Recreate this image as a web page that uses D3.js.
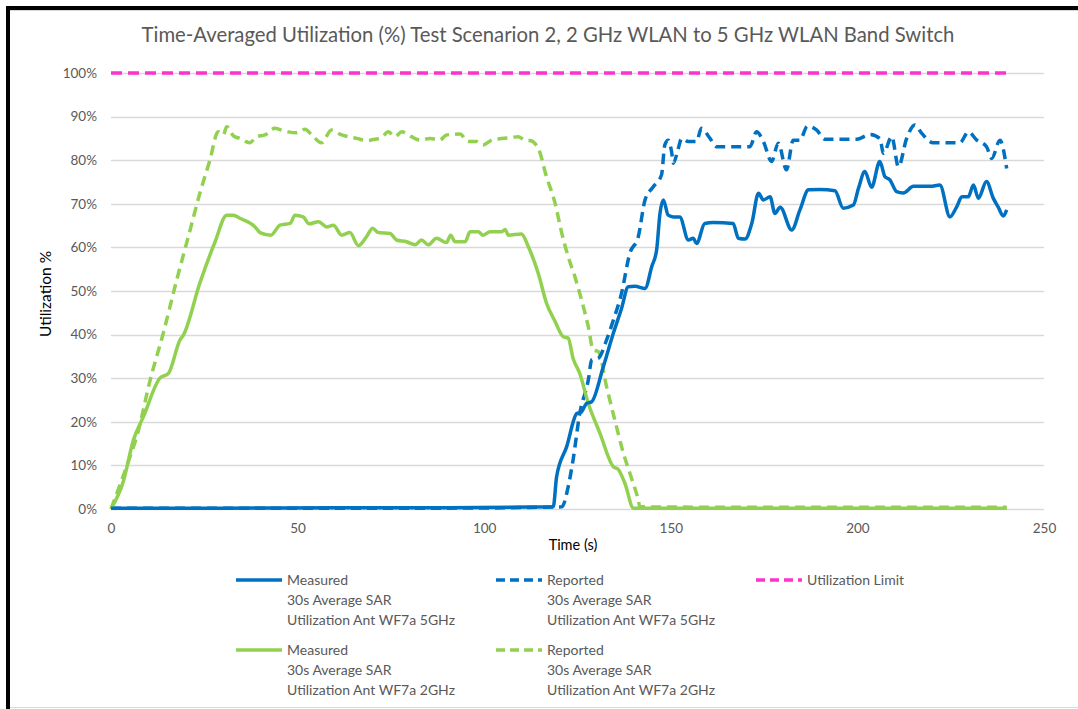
<!DOCTYPE html>
<html>
<head>
<meta charset="utf-8">
<script src="https://cdn.jsdelivr.net/npm/d3@7"></script>
<style>
  html, body { margin: 0; padding: 0; background: #fff; }
  svg { display: block; }
  text { font-family: Lato, "Open Sans", sans-serif; }
</style>
</head>
<body>
<svg id="chart" width="1078" height="709"></svg>
<script>
// ---- data ----
const title = "Time-Averaged Utilization (%) Test Scenarion 2, 2 GHz WLAN to 5 GHz WLAN Band Switch";
const xTicks = [0, 50, 100, 150, 200, 250];
const yTicks = [0, 10, 20, 30, 40, 50, 60, 70, 80, 90, 100];

const blueMeasuredT = [0, 30, 60, 90, 118.5, 119.4, 122.1, 124.8, 126.1, 127.4, 128.8, 131.9, 134.6, 136.8, 138.6, 140.4, 143.1, 144.9, 146.2, 147.1, 148, 149.3, 150.7, 152.4, 154.7, 156, 156.9, 159.1, 161.4, 166.7, 168.1, 169.9, 171.7, 173.5, 174.8, 176.6, 177.9, 179.3, 182.4, 184.6, 186.9, 190, 194, 196.2, 198.9, 200.3, 202, 203.8, 206, 207.4, 208.7, 210.5, 212.3, 215, 219.5, 222.1, 224.8, 226.6, 228, 229.7, 231.1, 232.4, 234.6, 236.4, 237.7, 239.1, 240];
const blueMeasuredV = [0.2, 0.2, 0.3, 0.3, 0.5, 7.4, 14.3, 21.9, 22.3, 24.2, 24.6, 32.6, 40.3, 46, 51, 51.1, 50.6, 55.6, 59.4, 67.8, 70.9, 67.4, 67, 67, 61.7, 62.1, 60.9, 65.5, 65.7, 65.5, 62.1, 61.9, 65.5, 72.4, 70.9, 71.6, 67.8, 69.2, 64, 68.6, 73.2, 73.3, 73, 69, 69.7, 73.6, 77.4, 73.8, 79.7, 76.2, 75.5, 72.8, 72.5, 74, 74, 74.3, 67, 69.3, 71.6, 71.6, 74.3, 71.3, 75.1, 71.3, 69.3, 67.2, 68.6];

const blueReportedT = [0, 30, 60, 90, 120.8, 122.5, 123.8, 125.6, 127.9, 128.8, 130.6, 132.8, 134.6, 136.8, 139, 141.3, 143.1, 145.3, 147.5, 148.4, 149.3, 150.2, 150.7, 152, 152.9, 154.7, 156.9, 158.2, 160.5, 162.3, 171.2, 173, 174.8, 177, 178.8, 181, 182.8, 184.6, 186.6, 189.1, 191.3, 199.8, 203.4, 206, 207, 209.2, 211, 213.2, 215.4, 217.2, 220.3, 227.5, 229.7, 232, 234.6, 236, 238.2, 240];
const blueReportedV = [0.2, 0.2, 0.2, 0.2, 0.5, 5.1, 11.2, 21.9, 29.6, 34.2, 34.6, 38.8, 43.3, 49.5, 58.6, 62.5, 70.9, 73.9, 76.6, 83.5, 84.6, 82, 79.3, 82.7, 85, 84.3, 84.3, 87.3, 85, 83.1, 83.1, 86.5, 84.3, 79.7, 83.9, 77.8, 84.6, 84.6, 87.8, 86.9, 84.8, 84.8, 85.9, 85, 81.6, 85.4, 78.5, 85, 88.1, 86.2, 84, 84, 86.5, 84.6, 83.1, 80.4, 84.6, 78.1];

const greenMeasuredT = [0, 3.3, 6, 8.7, 13.1, 15.4, 18.5, 19.4, 23.8, 27.9, 31, 32.8, 34.5, 38.6, 39.9, 42.8, 45.3, 48, 49.3, 51.5, 53.1, 55.6, 57.8, 59.6, 61.8, 64, 66.3, 68.5, 70.1, 71.6, 74.8, 76.5, 79.2, 81.5, 83.2, 85, 87.2, 89.9, 91, 92.2, 94.9, 96.2, 98.4, 99.7, 101.6, 104.7, 105.6, 106.5, 110, 111.8, 114.5, 116.7, 119, 121.2, 122.5, 123.8, 125.6, 127.9, 131, 134.6, 135.9, 137.7, 140, 170, 200, 240];
const greenMeasuredV = [0, 6.3, 15.8, 21.2, 30, 31.1, 38.8, 39.9, 51.8, 61.3, 67.4, 67.4, 66.7, 64.7, 63.4, 62.8, 65.1, 65.5, 67.4, 67, 65.4, 65.9, 64.7, 65.1, 62.8, 63.4, 60.4, 62.5, 64.4, 63.4, 63.2, 61.7, 61.3, 60.6, 61.7, 60.6, 62.1, 61.1, 62.8, 61.3, 61.3, 63.6, 63.6, 62.8, 63.6, 63.6, 64.1, 62.8, 63.1, 60.2, 54, 47.2, 43, 39.5, 39.2, 34.6, 31.1, 24.2, 17.4, 9.7, 9.1, 5.9, 0.2, 0.2, 0.2, 0.2];

const greenReportedT = [0, 5.1, 6.9, 10.5, 14, 17.6, 21.2, 23.8, 26.5, 28.7, 30.1, 31, 32.8, 34.5, 37.2, 39, 41.3, 43.9, 45.7, 47.5, 49.8, 52, 53.8, 56.4, 59.1, 61.3, 63.6, 65.8, 68.5, 70.7, 72.5, 74.3, 76.1, 77.9, 80.5, 82.8, 85.5, 88.1, 89.9, 93.5, 95.7, 98, 99.7, 102, 104.7, 107.3, 109.1, 110.9, 112.3, 114.5, 116.7, 119, 120.8, 122.5, 124.3, 126.1, 127.9, 129.2, 130.6, 132.8, 135, 137.3, 139.5, 141.3, 141.7, 170, 200, 240];
const greenReportedV = [0, 12, 16.6, 29.6, 40.3, 52.5, 64, 72.4, 80, 86.5, 85.8, 87.7, 85.6, 85, 84, 85.4, 85.8, 87.3, 86.9, 86.5, 86.3, 87.1, 85.8, 84, 86.9, 86, 85.4, 85, 84.5, 84.8, 85.2, 86.5, 85.4, 86.5, 85.4, 84.6, 85, 84.6, 85.8, 86, 84.3, 84.3, 83.5, 84.6, 85, 85.2, 85.4, 84.6, 84.5, 82.7, 76.2, 70.1, 63.2, 57.9, 53.3, 47.9, 41.8, 36.5, 36.1, 28, 20.4, 12.8, 7, 2, 0.5, 0.4, 0.4, 0.4];

const limitT = [0, 240];
const limitV = [100, 100];

const seriesNames = [
  ["Measured", "30s Average SAR", "Utilization Ant WF7a 5GHz"],
  ["Reported", "30s Average SAR", "Utilization Ant WF7a 5GHz"],
  ["Utilization Limit"],
  ["Measured", "30s Average SAR", "Utilization Ant WF7a 2GHz"],
  ["Reported", "30s Average SAR", "Utilization Ant WF7a 2GHz"]
];

// ---- drawing ----
const svg = d3.select("#chart");
const BLUE = "#0070C0", GREEN = "#92D050", PINK = "#FF33CC";
const x = d3.scaleLinear().domain([0, 250]).range([111, 1044]);
const y = d3.scaleLinear().domain([0, 100]).range([509, 73]);

// frame
svg.append("rect").attr("x", 0).attr("y", 0).attr("width", 1078).attr("height", 709).attr("fill", "#fff");
svg.append("line").attr("x1", 10).attr("x2", 1078).attr("y1", 10.5).attr("y2", 10.5).attr("stroke", "#d9d9d9");
svg.append("line").attr("x1", 10).attr("x2", 1078).attr("y1", 707.5).attr("y2", 707.5).attr("stroke", "#d9d9d9");
svg.append("rect").attr("x", 6).attr("y", 6).attr("width", 1072).attr("height", 4).attr("fill", "#000");
svg.append("rect").attr("x", 6).attr("y", 6).attr("width", 4).attr("height", 703).attr("fill", "#000");

// title
svg.append("text").attr("x", 548).attr("y", 42).attr("text-anchor", "middle")
  .attr("font-size", 20.3).attr("fill", "#595959").text(title);

// gridlines
svg.append("g").selectAll("line").data(yTicks).join("line")
  .attr("x1", x(0)).attr("x2", x(250))
  .attr("y1", d => Math.round(y(d)) + 0.5).attr("y2", d => Math.round(y(d)) + 0.5)
  .attr("stroke", "#d9d9d9").attr("stroke-width", 1.3);

// y axis labels
const yAxis = d3.axisLeft(y).tickValues(yTicks).tickFormat(d => d + "%").tickSize(0).tickPadding(14);
const gy = svg.append("g").attr("transform", `translate(${x(0)},0)`).call(yAxis);
gy.select(".domain").remove();
gy.selectAll("text").attr("font-size", 13.5).attr("fill", "#595959").style("font-family", "Lato, sans-serif");

// x axis labels
const xAxis = d3.axisBottom(x).tickValues(xTicks).tickSize(0).tickPadding(14);
const gx = svg.append("g").attr("transform", `translate(0,${y(0)})`).call(xAxis);
gx.select(".domain").remove();
gx.selectAll("text").attr("font-size", 13.5).attr("fill", "#595959").style("font-family", "Lato, sans-serif");

// axis titles
svg.append("text").attr("transform", "translate(51,294) rotate(-90)").attr("text-anchor", "middle")
  .attr("font-size", 15.5).attr("fill", "#000").text("Utilization %");
svg.append("text").attr("x", 573).attr("y", 550).attr("text-anchor", "middle")
  .attr("font-size", 14.5).attr("fill", "#000").text("Time (s)");

// lines
const line = d3.line().x(d => x(d[0])).y(d => y(d[1])).curve(d3.curveMonotoneX);
const zip = (t, v) => t.map((tt, i) => [tt, v[i]]);
const series = [
  { data: zip(limitT, limitV), color: PINK, dash: "11,6" },
  { data: zip(greenReportedT, greenReportedV), color: GREEN, dash: "10,6" },
  { data: zip(blueReportedT, blueReportedV), color: BLUE, dash: "10,6" },
  { data: zip(greenMeasuredT, greenMeasuredV), color: GREEN, dash: null },
  { data: zip(blueMeasuredT, blueMeasuredV), color: BLUE, dash: null }
];
svg.append("g").selectAll("path").data(series).join("path")
  .attr("d", d => line(d.data))
  .attr("fill", "none")
  .attr("stroke", d => d.color)
  .attr("stroke-width", 3.5)
  .attr("stroke-linejoin", "round")
  .attr("stroke-dasharray", d => d.dash);

// legend
const legendItems = [
  { names: seriesNames[0], color: BLUE, dash: null, lx: 236, ty: 580 },
  { names: seriesNames[1], color: BLUE, dash: "9,5", lx: 496, ty: 580 },
  { names: seriesNames[2], color: PINK, dash: "9,5", lx: 756, ty: 580 },
  { names: seriesNames[3], color: GREEN, dash: null, lx: 236, ty: 650 },
  { names: seriesNames[4], color: GREEN, dash: "9,5", lx: 496, ty: 650 }
];
const lg = svg.append("g").selectAll("g").data(legendItems).join("g");
lg.append("line")
  .attr("x1", d => d.lx).attr("x2", d => d.lx + 46)
  .attr("y1", d => d.ty).attr("y2", d => d.ty)
  .attr("stroke", d => d.color).attr("stroke-width", 3.5)
  .attr("stroke-dasharray", d => d.dash);
lg.each(function(d) {
  const g = d3.select(this);
  d.names.forEach((s, i) => {
    g.append("text").attr("x", d.lx + 51).attr("y", d.ty + 5 + i * 20)
      .attr("font-size", 14).attr("fill", "#595959").text(s);
  });
});
</script>
</body>
</html>
